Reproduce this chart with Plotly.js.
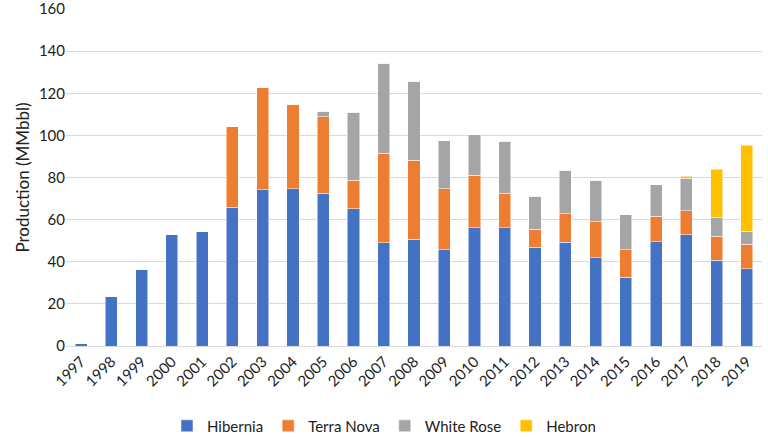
<!DOCTYPE html>
<html>
<head>
<meta charset="utf-8">
<script src="https://cdn.plot.ly/plotly-3.0.1.min.js"></script>
<style>
  html, body { margin: 0; padding: 0; background: #fff; }
  #chart { width: 768px; height: 437px; }
</style>
</head>
<body>
<div id="chart"></div>
<script>
var years = ['1997', '1998', '1999', '2000', '2001', '2002', '2003', '2004', '2005', '2006', '2007', '2008',
             '2009', '2010', '2011', '2012', '2013', '2014', '2015', '2016', '2017', '2018', '2019'];

var hibernia  = [1.3, 23.7, 36.5, 52.9, 54.3, 65.9, 74.1, 74.6, 72.5, 65.1, 49.0, 50.6,
                 45.7, 56.1, 56.1, 47.0, 49.3, 41.9, 32.6, 49.6, 52.8, 40.8, 36.7];
var terraNova = [0, 0, 0, 0, 0, 38.5, 48.7, 40.2, 36.4, 13.7, 42.4, 37.6,
                 29.0, 24.9, 16.4, 8.5, 13.6, 17.0, 13.1, 12.0, 11.3, 11.4, 11.5];
var whiteRose = [0, 0, 0, 0, 0, 0, 0, 0, 2.5, 32.1, 42.9, 37.4,
                 22.8, 19.4, 24.7, 15.6, 20.5, 19.9, 16.7, 15.0, 15.6, 8.9, 6.3];
var hebron    = [0, 0, 0, 0, 0, 0, 0, 0, 0, 0, 0, 0,
                 0, 0, 0, 0, 0, 0, 0, 0, 1.0, 22.9, 40.8];

function makeTrace(name, values, color) {
  return {
    type: 'bar',
    x: years,
    y: values,
    name: name,
    marker: {
      color: color,
      line: { color: '#ffffff', width: 0.5 }
    },
    hoverinfo: 'x+y+name'
  };
}

var data = [
  makeTrace('Hibernia', hibernia, '#4472C4'),
  makeTrace('Terra Nova', terraNova, '#ED7D31'),
  makeTrace('White Rose', whiteRose, '#A5A5A5'),
  makeTrace('Hebron', hebron, '#FFC000')
];

var layout = {
  width: 768,
  height: 437,
  barmode: 'stack',
  bargap: 0.6,
  paper_bgcolor: '#ffffff',
  plot_bgcolor: '#ffffff',
  font: { family: 'Lato, "Open Sans", sans-serif', color: '#222222', size: 14 },
  margin: { l: 66, r: 6, t: 9, b: 91 },
  showlegend: true,
  legend: {
    orientation: 'h',
    xref: 'container',
    x: 0.5,
    xanchor: 'center',
    yref: 'container',
    y: 0.025,
    yanchor: 'middle',
    itemwidth: 30,
    font: { size: 15 },
    traceorder: 'normal'
  },
  xaxis: {
    type: 'category',
    automargin: false,
    tickangle: -45,
    tickfont: { size: 15 },
    showgrid: false,
    showline: true,
    linecolor: '#d9d9d9',
    linewidth: 1,
    ticks: ''
  },
  yaxis: {
    range: [0, 160],
    dtick: 20,
    automargin: false,
    ticklabeloverflow: 'allow',
    tickfont: { size: 15 },
    gridcolor: '#d9d9d9',
    gridwidth: 1,
    zeroline: false,
    ticks: '',
    title: { text: 'Production (MMbbl)', font: { size: 17 }, standoff: 4 }
  }
};

Plotly.newPlot('chart', data, layout, { displayModeBar: false, responsive: false });
</script>
</body>
</html>
